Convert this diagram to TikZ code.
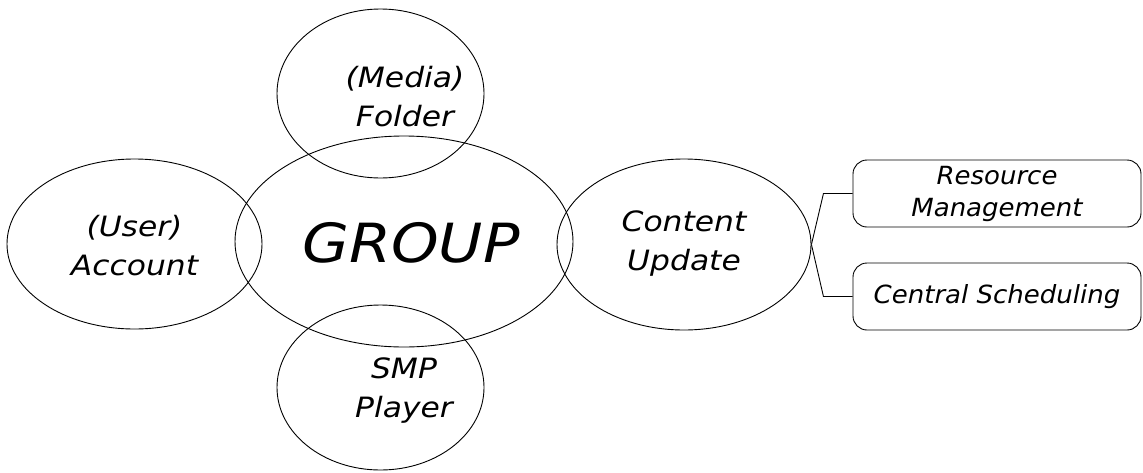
\documentclass[tikz,border=0pt]{standalone}
\usepackage{fontspec}
\setmainfont{DejaVu Sans}
\newfontfamily\ellfont[FakeStretch=1.12]{DejaVu Sans Oblique}
\newfontfamily\boxfont[FakeStretch=1.04]{DejaVu Sans Oblique}
\usetikzlibrary{shapes.geometric}
\begin{document}
\begin{tikzpicture}[x=1pt,y=-1pt,
  bubble/.style={draw, ellipse, line width=0.9pt, inner sep=0pt},
  elltext/.style={font=\ellfont\fontsize{28}{39}\selectfont, align=center, inner sep=0pt},
  bigtext/.style={font=\ellfont\fontsize{54}{60}\selectfont, inner sep=0pt},
  taskbox/.style={draw, rounded corners=14pt, line width=0.9pt, minimum width=288pt,
    minimum height=67pt, align=center, inner sep=0pt,
    font=\boxfont\fontsize{25}{32}\selectfont},
  link/.style={line width=0.9pt}]
\useasboundingbox (0,0) rectangle (1143,472);

% central group and the four surrounding bubbles
\node[bubble, minimum width=338pt, minimum height=211pt] (grp) at (404,241.5) {};
\node[bigtext] (grpt) at (411,243) {GROUP};

\node[bubble, minimum width=207pt, minimum height=169pt] (mf) at (380.5,93.5) {};
\node[elltext] (mft) at (405,97) {(Media)\\Folder};

\node[bubble, minimum width=207pt, minimum height=165pt] (smp) at (380.5,387.5) {};
\node[elltext] (smpt) at (404,391) {SMP\\Player};

\node[bubble, minimum width=255pt, minimum height=170pt] (ua) at (134.5,244) {};
\node[elltext] (uat) at (134.5,246) {(User)\\Account};

\node[bubble, minimum width=254pt, minimum height=171pt] (cu) at (684,244.5) {};
\node[elltext] (cut) at (684,244) {Content\\Update};

% content update branches
\node[taskbox] (rm) at (997,193.5) {Resource\\Management};
\node[taskbox] (cs) at (997,296.5) {Central Scheduling};

\draw[link] (cu.east) -- ([xshift=12pt]cu.east |- rm.west) -- (rm.west);
\draw[link] (cu.east) -- ([xshift=12pt]cu.east |- cs.west) -- (cs.west);
\end{tikzpicture}
\end{document}
